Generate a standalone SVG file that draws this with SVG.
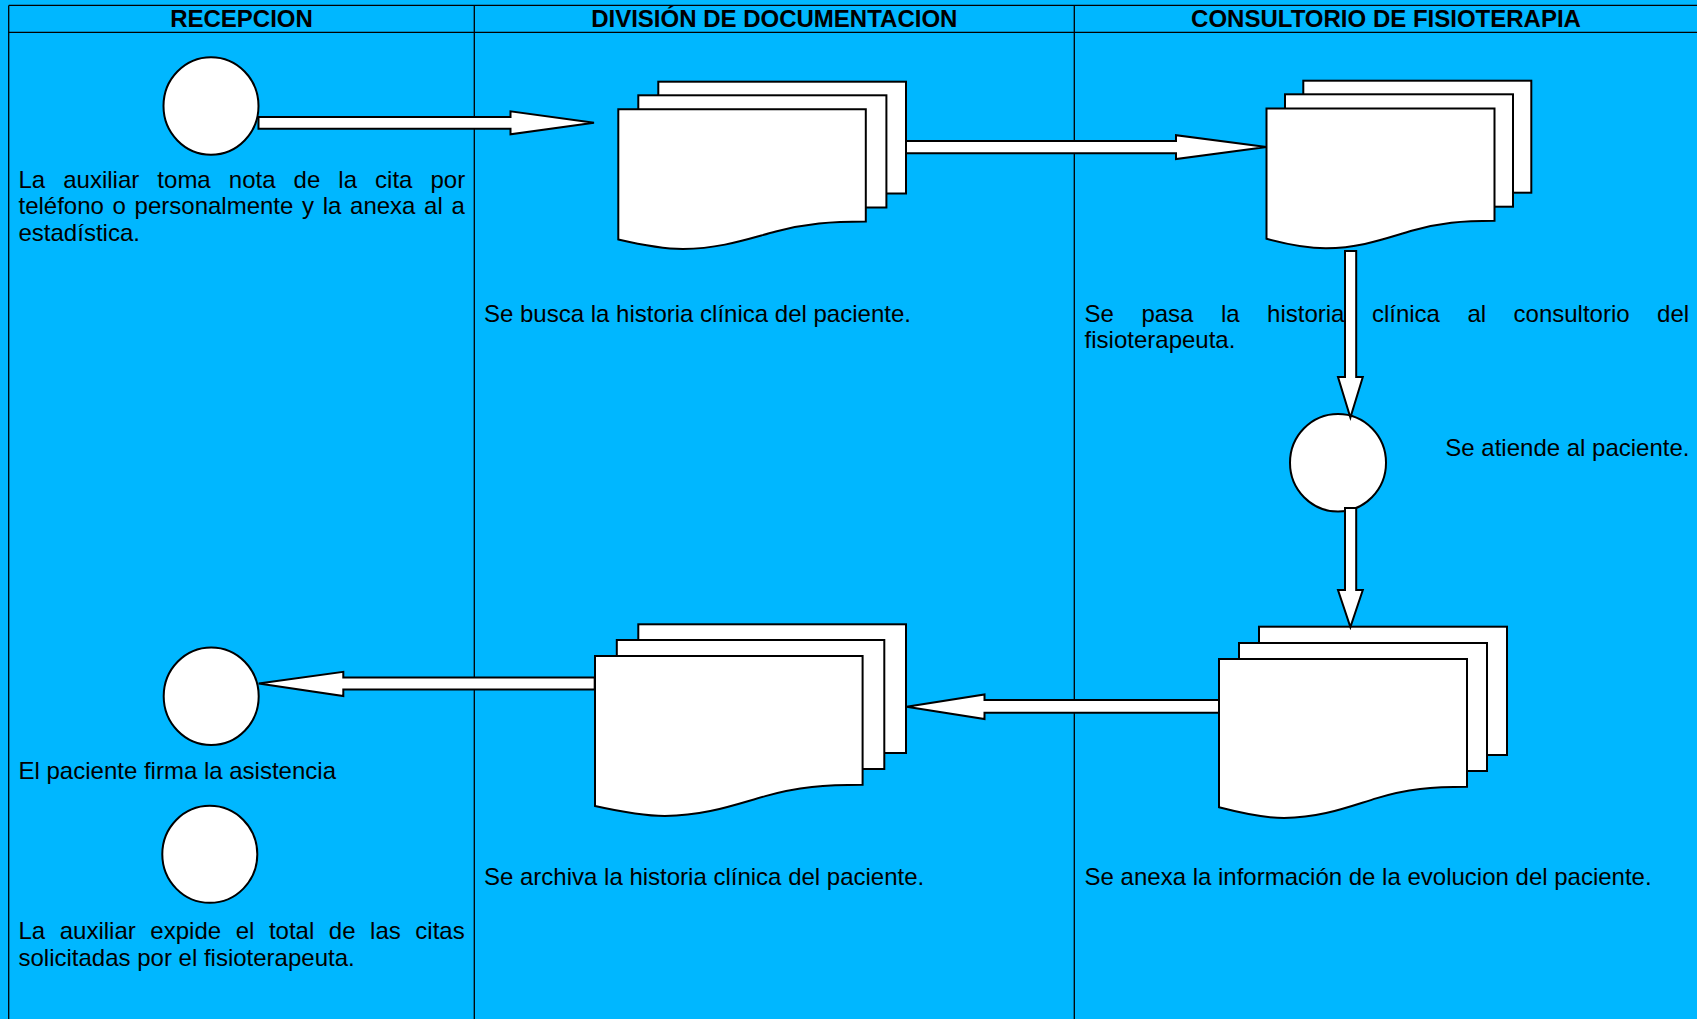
<svg xmlns="http://www.w3.org/2000/svg" width="1697" height="1019" viewBox="0 0 1697 1019">
<style>
.frame{stroke:#000;stroke-width:1.3;fill:none}
.hdr{font-family:"Liberation Sans",Arial,sans-serif;font-weight:bold;font-size:24px;text-anchor:middle;fill:#000}
.txt{font-family:"Liberation Sans",Arial,sans-serif;font-size:24px;fill:#000}
.shape{fill:#fff;stroke:#000;stroke-width:2;stroke-linejoin:miter}
.arrow{fill:#fff;stroke:#000;stroke-width:2;stroke-linejoin:miter}
</style>
<rect x="0" y="0" width="1697" height="1019" fill="#00B7FF"/>
<g id="lanes">
<line class="frame" x1="8.7" y1="5.4" x2="1697" y2="5.4"/>
<line class="frame" x1="8.7" y1="32.4" x2="1697" y2="32.4"/>
<line class="frame" x1="8.7" y1="5.4" x2="8.7" y2="1019"/>
<line class="frame" x1="474.3" y1="5.4" x2="474.3" y2="1019"/>
<line class="frame" x1="1074.3" y1="5.4" x2="1074.3" y2="1019"/>
<text class="hdr" x="241.5" y="27.2">RECEPCION</text>
<text class="hdr" x="774.3" y="27.2">DIVISIÓN DE DOCUMENTACION</text>
<text class="hdr" x="1386" y="27.2">CONSULTORIO DE FISIOTERAPIA</text>
</g>
<g id="n1">
<ellipse class="shape" cx="211" cy="106" rx="47.5" ry="48.7"/>
<text class="txt" x="18.5" y="187.5" style="word-spacing:11.4px">La auxiliar toma nota de la cita por</text>
<text class="txt" x="18.5" y="214.3" style="word-spacing:2px">teléfono o personalmente y la anexa al a</text>
<text class="txt" x="18.5" y="241">estadística.</text>
</g>
<g id="n2">
<rect class="shape" x="658.3" y="81.7" width="247.7" height="111.8"/>
<rect class="shape" x="638.3" y="95.3" width="248.1" height="112.2"/>
<path class="shape" d="M618.3,109.3 H865.8 V221.5 C830.8,221.5 805.8,223.5 775.8,231.5 C745.8,239.5 720.8,248.5 682.8,249 C662.8,249 637.8,244 618.3,239.5 Z"/>
<text class="txt" x="484" y="321.5">Se busca la historia clínica del paciente.</text>
</g>
<g id="n3">
<rect class="shape" x="1303.3" y="80.7" width="228" height="112"/>
<rect class="shape" x="1285" y="94.3" width="228" height="112.4"/>
<path class="shape" d="M1266.5,108.5 H1494.5 V220.8 C1462.3,220.8 1439.2,222.8 1411.6,230.8 C1384,238.8 1360.9,247.8 1325.9,248.3 C1307.5,248.3 1284.5,243.6 1266.5,238.8 Z"/>
<text class="txt" x="1084.6" y="321.6" style="word-spacing:20.8px">Se pasa la historia clínica al consultorio del</text>
<text class="txt" x="1084.6" y="348.4">fisioterapeuta.</text>
</g>
<g id="n4">
<ellipse class="shape" cx="1338" cy="462.8" rx="48" ry="48.8"/>
<text class="txt" x="1689.5" y="456.2" text-anchor="end">Se atiende al paciente.</text>
</g>
<g id="n5">
<rect class="shape" x="1259" y="626.7" width="248" height="128.3"/>
<rect class="shape" x="1239" y="643" width="248" height="128"/>
<path class="shape" d="M1219,659 H1467 V786.7 C1432,786.7 1407,789 1377,798.1 C1347,807.2 1322,817.5 1284,818 C1264,818 1239,812.5 1219,807.3 Z"/>
<text class="txt" x="1084.6" y="885">Se anexa la información de la evolucion del paciente.</text>
</g>
<g id="n6">
<rect class="shape" x="638.3" y="624.3" width="267.7" height="128.7"/>
<rect class="shape" x="616.8" y="640" width="267.5" height="129"/>
<path class="shape" d="M595,656 H862.6 V784.7 C824.8,784.7 797.7,787 765.3,796.1 C732.9,805.2 705.8,815.5 664.8,816 C643.2,816 616.2,810.7 595,806 Z"/>
<text class="txt" x="484" y="885">Se archiva la historia clínica del paciente.</text>
</g>
<g id="n7">
<ellipse class="shape" cx="211.2" cy="696.3" rx="47.5" ry="48.8"/>
<text class="txt" x="18.5" y="779.3">El paciente firma la asistencia</text>
</g>
<g id="n8">
<ellipse class="shape" cx="209.8" cy="854.3" rx="47.5" ry="48.5"/>
<text class="txt" x="18.5" y="939.3" style="word-spacing:7.9px">La auxiliar expide el total de las citas</text>
<text class="txt" x="18.5" y="965.5">solicitadas por el fisioterapeuta.</text>
</g>
<g id="connectors">
<polygon class="arrow" points="258.5,116.9 510.5,116.9 510.5,111.3 594,122.8 510.5,134.3 510.5,128.8 258.5,128.8"/>
<polygon class="arrow" points="906,141 1176,141 1176,135.2 1266.5,147.1 1176,159 1176,153.2 906,153.2"/>
<polygon class="arrow" points="1345,251 1356.2,251 1356.2,377 1362.8,377 1350.4,417.5 1338,377 1345,377"/>
<polygon class="arrow" points="1345,508 1356.2,508 1356.2,590 1362.8,590 1350.4,627 1338,590 1345,590"/>
<polygon class="arrow" points="1219,700 984.5,700 984.5,694.5 906.6,706.7 984.5,719 984.5,712.8 1219,712.8"/>
<polygon class="arrow" points="594.7,677.4 343.3,677.4 343.3,671.8 258.7,683.5 343.3,696 343.3,689.4 594.7,689.4"/>
</g>
</svg>
